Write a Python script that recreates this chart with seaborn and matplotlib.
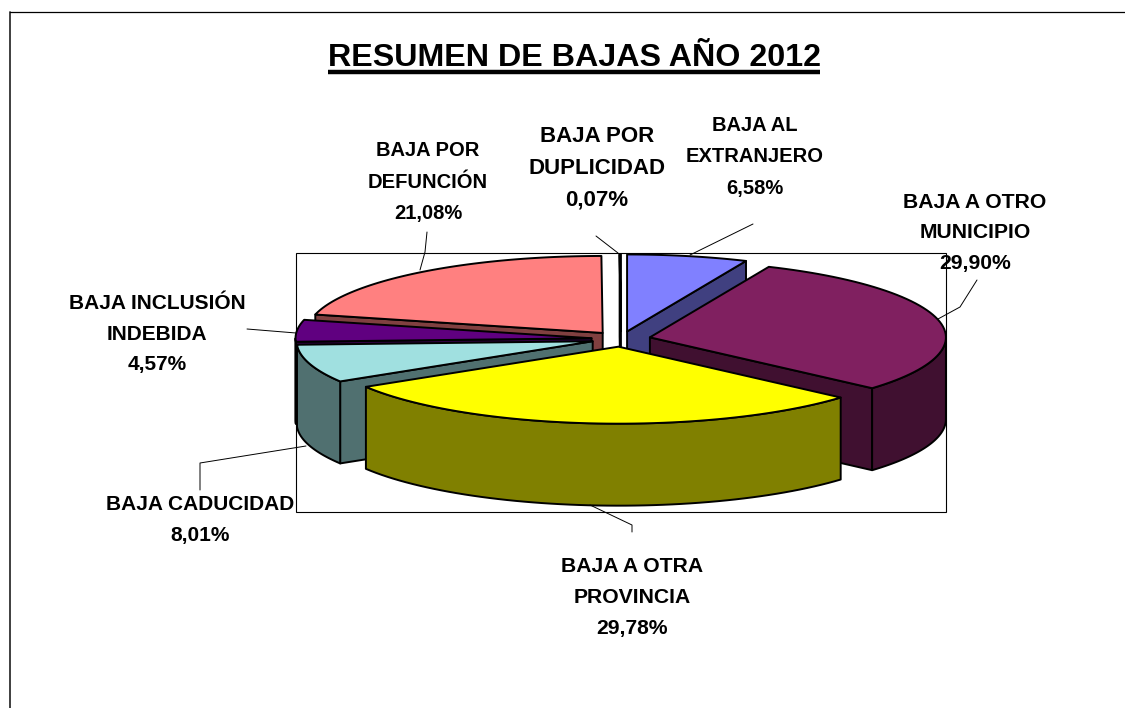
import numpy as np
import pandas as pd
import seaborn as sns
import matplotlib
matplotlib.use('Agg')
import matplotlib.pyplot as plt
from matplotlib.patches import Polygon, Rectangle

# slices clockwise from 12 o'clock
names = ['BAJA AL\nEXTRANJERO', 'BAJA A OTRO\nMUNICIPIO', 'BAJA A OTRA\nPROVINCIA', 'BAJA CADUCIDAD',
	'BAJA INCLUSIÓN\nINDEBIDA', 'BAJA POR\nDEFUNCIÓN', 'BAJA POR\nDUPLICIDAD']
values = [6.58, 29.90, 29.78, 8.01, 4.57, 21.08, 0.07]
top_colors = ['#8080FF', '#802060', '#FFFF00', '#A0E0E0', '#600080', '#FF8080', '#FFFFFF']
side_colors = ['#404080', '#401030', '#808000', '#507070', '#300040', '#804040', '#808080']
title = 'RESUMEN DE BAJAS AÑO 2012'

# label centre, size and leader line, in picture pixels
label_xy = [(755, 157), (975, 233), (632, 597.5), (200, 520), (157, 334), (428, 182), (597, 168.5)]
label_size = [14.5, 15.2, 15.2, 15, 15, 14.5, 16]
leaders = [
	[(753, 224), (690, 255)],
	[(977, 280), (960, 307), (938, 319)],
	[(632, 532), (632, 525), (590, 505)],
	[(200, 490), (200, 463), (306, 446)],
	[(247, 329), (296, 333)],
	[(427, 232), (425, 252), (420, 270)],
	[(596, 236), (618, 253)],
]

# pie geometry
cx, cy = 621, 339
rx, ry = 296, 77
depth = 82
explode = 0.10

sns.set_theme(style='white')
plt.rcParams['font.family'] = ['Liberation Sans', 'DejaVu Sans']

df = pd.DataFrame({'name': names, 'value': values, 'top': top_colors, 'side': side_colors})
df['label_xy'] = label_xy
df['size'] = label_size
df['leader'] = leaders
ends = np.cumsum(df['value']) / df['value'].sum() * 2 * np.pi
df['t1'] = ends
df['t0'] = np.r_[0, ends[:-1]]
df['mid'] = (df['t0'] + df['t1']) / 2
df['pct'] = [f'{v:.2f}'.replace('.', ',') + '%' for v in values]

fig = plt.figure(figsize=(11.25, 7.08), dpi=100)
ax = fig.add_axes([0, 0, 1, 1])
ax.set_xlim(0, 1125)
ax.set_ylim(708, 0)
ax.axis('off')

# chart border and plot area
ax.plot([10, 10], [708, 11.5], color='#303030', lw=1.3, zorder=1)
ax.plot([10, 1125], [11.5, 11.5], color='black', lw=0.9, zorder=1)
ax.add_patch(Rectangle((295.5, 253), 650.5, 258.5, fill=False, ec='black', lw=0.8, zorder=1))


def rim(ox, oy, a, b, n=60):
	t = np.linspace(a, b, n)
	return np.c_[ox + rx * np.sin(t), oy - ry * np.cos(t)]


def draw_slice(row):
	ox = cx + explode * rx * np.sin(row.mid)
	oy = cy - explode * ry * np.cos(row.mid)
	edge = dict(ec='black', lw=1.4, joinstyle='round', zorder=2)
	down = np.array([0, depth])
	# radial faces that look at the viewer
	for t, show in ((row.t0, np.sin(row.t0) < 0), (row.t1, np.sin(row.t1) > 0)):
		if show:
			quad = np.vstack([[ox, oy], rim(ox, oy, t, t, 1)])
			ax.add_patch(Polygon(np.vstack([quad, quad[::-1] + down]), fc=row.side, **edge))
	# curved wall, front half only
	a, b = max(row.t0, np.pi / 2), min(row.t1, 3 * np.pi / 2)
	if b > a:
		pts = rim(ox, oy, a, b)
		ax.add_patch(Polygon(np.vstack([pts, pts[::-1] + down]), fc=row.side, **edge))
	# top
	ax.add_patch(Polygon(np.vstack([[ox, oy], rim(ox, oy, row.t0, row.t1)]), fc=row.top, **edge))


# back to front
for row in df.sort_values('mid', key=lambda s: -np.cos(s)).itertuples():
	draw_slice(row)

for row in df.itertuples():
	pts = np.array(row.leader)
	ax.plot(pts[:, 0], pts[:, 1], color='black', lw=0.7, zorder=3)
	ax.text(row.label_xy[0], row.label_xy[1], row.name + '\n' + row.pct, ha='center', va='center',
		fontsize=row.size, fontweight='bold', color='black', linespacing=26.9 / row.size, zorder=4)

ax.text(574, 66, title, ha='center', va='baseline', fontsize=23.2, fontweight='bold', color='black')
ax.plot([328, 820], [71.5, 71.5], color='black', lw=3.2, solid_capstyle='butt')

fig.savefig('out.png', dpi=100)
